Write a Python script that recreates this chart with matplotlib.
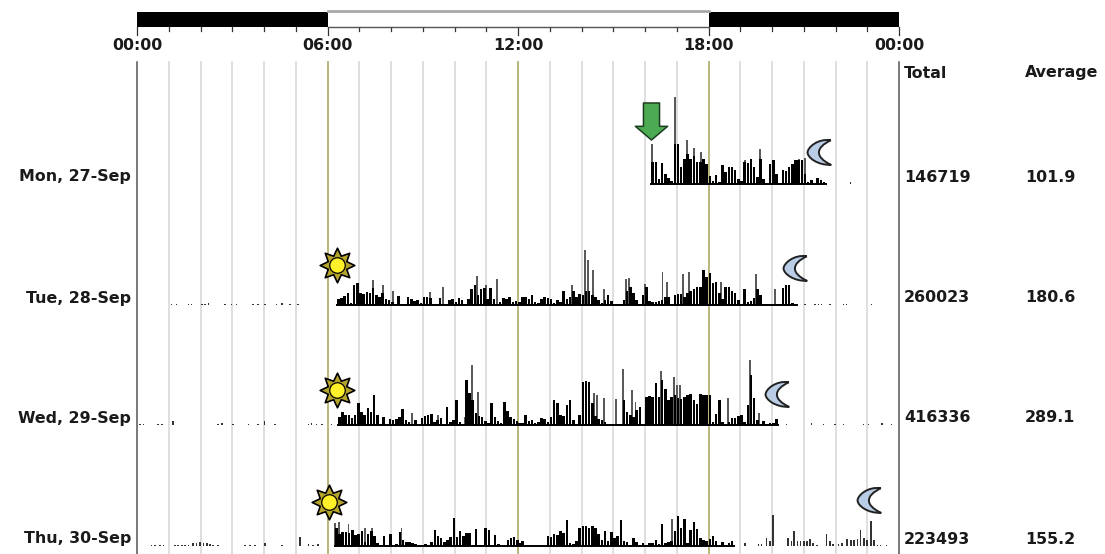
# Daily activity chart, four days stacked with a day/night strip on top
import matplotlib
matplotlib.use('Agg')
import matplotlib.pyplot as plt
import numpy as np
from matplotlib.path import Path

days = ['Mon, 27-Sep', 'Tue, 28-Sep', 'Wed, 29-Sep', 'Thu, 30-Sep']
totals = ['146719', '260023', '416336', '223493']
averages = ['101.9', '180.6', '289.1', '155.2']
tick_labels = ['00:00', '06:00', '12:00', '18:00', '00:00']
tick_hours = [0, 6, 12, 18, 24]

# activity per 6 minute bin
mon_start = 16.2
mon_body = [22, 22, 5, 21, 10, 6, 3, 40, 40, 17, 25, 30, 25, 28, 22, 22, 25, 20, 8, 3, 9, 2, 19, 12, 17, 17, 14,
            5, 3, 22, 21, 25, 17, 7, 25, 5, 0, 20, 24, 10, 1, 14, 13, 17, 20, 24, 24, 24, 10, 2, 4, 1, 6, 4, 2]
mon_spike_h = [16.21, 16.94, 17.33, 17.55, 17.76, 19.15, 19.62, 20.85, 21.05]
mon_spike_v = [40, 87, 44, 36, 32, 24, 35, 25, 26]
mon_dot_h = [22.47]
mon_dot_v = [2]

tue_start = 6.3
tue_am = [6, 7, 9, 12, 2, 20, 22, 12, 11, 13, 12, 17, 10, 8, 12, 6, 5, 3, 1, 9, 1, 1, 8, 6, 4, 5, 2, 8, 8, 7, 1, 1,
          7, 1, 1, 5, 6, 3, 7, 5, 1, 6, 16, 20, 10, 16, 17, 6, 17, 6, 1, 3, 7, 6, 8, 3, 4]
tue_pm = [3, 8, 8, 6, 10, 3, 2, 6, 8, 7, 6, 2, 5, 3, 14, 6, 8, 14, 8, 11, 10, 14, 14, 10, 8, 5, 2, 5, 10, 4, 1, 1,
          1, 5, 14, 18, 12, 5, 1, 10, 18, 4, 3, 3, 4, 5, 8, 8, 1, 10, 11, 11, 8, 12, 14, 16, 18, 18, 35, 28, 32,
          22, 23, 12, 6, 18, 18, 14, 12, 5, 1, 16, 3, 4, 7, 16, 10, 1, 1, 1, 0, 1, 1, 17, 20, 20, 2, 1]
tue_spike_h = [7.44, 7.76, 8.07, 9.23, 9.65, 10.7, 11.0, 11.33, 13.7, 14.1, 14.2, 14.35, 14.7, 15.4, 15.5, 16.0,
               16.55, 16.7, 17.2, 17.4, 18.4, 19.5, 20.1]
tue_spike_v = [25, 20, 14, 13, 18, 29, 20, 26, 20, 55, 45, 35, 16, 26, 27, 21, 33, 23, 31, 33, 23, 31, 16]
tue_dot_h = [1.09, 1.25, 1.62, 1.72, 2.04, 2.14, 2.25, 2.77, 2.98, 3.14, 3.66, 3.82, 4.03, 4.4, 4.56, 4.82, 5.08,
             19.83, 21.04, 21.36, 21.47, 21.56, 21.83, 22.25, 22.35, 23.14]
tue_dot_v = [1, 1, 1, 1, 1, 1, 2, 1, 1, 1, 1, 1, 1, 1, 2, 1, 1, 1, 1, 1, 1, 1, 1, 1, 1, 1]

wed_start = 6.33
wed_am = [8, 13, 10, 10, 7, 10, 22, 13, 10, 17, 13, 30, 10, 0, 8, 0, 6, 5, 6, 8, 16, 5, 3, 1, 5, 0, 7, 9, 10, 11, 3,
          5, 7, 0, 18, 3, 5, 25, 3, 1, 45, 32, 25, 12, 9, 8, 4, 2, 22, 8, 4, 2, 23, 14, 8, 6, 4]
wed_pm = [2, 2, 10, 4, 5, 2, 3, 7, 6, 3, 8, 25, 22, 10, 9, 20, 25, 5, 1, 10, 43, 44, 43, 22, 9, 6, 5, 3, 0, 1, 0, 1,
          1, 25, 13, 10, 8, 15, 18, 0, 28, 29, 28, 42, 28, 45, 36, 25, 28, 30, 27, 26, 28, 30, 31, 25, 21, 31, 30,
          30, 30, 3, 11, 25, 3, 0, 3, 7, 7, 9, 10, 3, 20, 50, 27, 5, 1, 4, 1, 2, 2, 6]
wed_spike_h = [8.65, 9.49, 10.33, 10.54, 10.75, 14.4, 14.5, 14.7, 15.1, 15.3, 15.6, 15.7, 16.5, 16.9, 17.0, 17.1,
               18.6, 19.3, 19.6]
wed_spike_v = [12, 10, 8, 60, 33, 32, 30, 27, 26, 56, 35, 23, 54, 48, 40, 40, 27, 65, 12]
wed_dot_h = [0.09, 0.2, 0.67, 0.78, 1.14, 2.56, 2.67, 3.03, 3.51, 3.82, 4.01, 4.35, 5.4, 5.5, 5.66, 5.82, 6.13,
             14.9, 20.46, 21.25, 21.62, 21.98, 22.25, 22.88, 23.04, 23.46, 23.77]
wed_dot_v = [1, 1, 1, 1, 4, 1, 2, 1, 1, 1, 4, 1, 1, 2, 1, 1, 1, 1, 1, 2, 1, 1, 1, 1, 1, 2, 1]

thu_start = 6.24
thu_am = [18, 12, 14, 14, 13, 16, 11, 12, 15, 4, 12, 15, 10, 3, 1, 10, 1, 12, 1, 2, 14, 6, 4, 4, 3, 2, 1, 1, 2, 1, 4,
          16, 10, 8, 4, 6, 9, 28, 9, 15, 10, 13, 13, 1, 17, 1, 1, 18, 16, 0, 11, 2, 0, 1, 6, 8, 9, 6]
thu_pm = [3, 5, 0, 0, 0, 0, 0, 0, 0, 10, 9, 12, 11, 15, 13, 26, 3, 2, 5, 18, 20, 20, 18, 20, 18, 12, 6, 15, 5, 14, 8,
          10, 26, 5, 4, 1, 8, 4, 1, 3, 1, 3, 3, 6, 2, 22, 3, 4, 5, 15, 30, 18, 27, 3, 16, 24, 17, 8, 6, 5, 7, 10, 5,
          0, 4, 0, 3, 5]
thu_spike_h = [6.24, 6.35, 6.66, 7.18, 7.4, 8.33, 16.85, 17.05]
thu_spike_v = [23, 24, 22, 18, 18, 18, 27, 28]
thu_dot_h = [0.46, 0.57, 0.72, 0.83, 1.2, 1.3, 1.41, 1.51, 1.62, 1.77, 1.88, 1.98, 2.09, 2.2, 2.3, 2.4, 2.56, 3.4,
             3.56, 3.72, 4.03, 4.56, 5.13, 5.4, 5.55, 5.71, 19.15, 19.57, 19.67, 19.83, 19.94, 20.04, 20.51, 20.62,
             20.69, 20.8, 20.9, 21.0, 21.11, 21.2, 21.3, 21.41, 21.72, 21.83, 21.93, 22.09, 22.2, 22.37, 22.48, 22.58,
             22.69, 22.79, 22.9, 23.0, 23.11, 23.21, 23.32, 23.42, 23.6]
thu_dot_v = [1, 1, 1, 1, 1, 1, 1, 1, 1, 3, 3, 4, 3, 3, 2, 1, 1, 1, 1, 1, 3, 1, 9, 2, 1, 2, 3, 2, 2, 8, 5, 31, 8, 5,
             15, 5, 5, 5, 5, 7, 3, 1, 12, 5, 2, 2, 3, 7, 6, 6, 7, 16, 8, 6, 25, 6, 1, 1, 1]

sun_hours = [6.3, 6.3, 6.05]
moon_hours = [21.5, 20.75, 20.2, 23.1]
arrow_hour = 16.2

# layout, in pixels from the bottom of the 554 px high figure
W, H = 1105, 554
baselines = [H - 184, H - 305, H - 425, H - 546]
label_y = [H - 177, H - 298, H - 418, H - 539]
sun_y = [H - 265, H - 390, H - 502]
moon_y = [H - 152, H - 268, H - 394, H - 500]

BIN = 0.1
BOLD = dict(family='DejaVu Sans', fontweight='bold', fontsize=11.4, color='#1a1a1a', va='center')

fig = plt.figure(figsize=(W / 100, H / 100), dpi=100)
ax = fig.add_axes([137 / W, 0, (899 - 137) / W, 1])
ax.set_xlim(0, 24)
ax.set_ylim(0, H)
ax.axis('off')

# grid
grid_top = H - 62
for h in range(25):
    if h in (0, 24):
        col, lw = '#555555', 1.1
    elif h % 6 == 0:
        col, lw = '#b9b57c', 1.4
    else:
        col, lw = '#dcdcdc', 1.3
    ax.plot([h, h], [0, grid_top], color=col, lw=lw, zorder=1, clip_on=False)
    ax.plot([h, h], [H - 27, H - (35 if h % 6 == 0 else 31)], color='#333333', lw=0.9, clip_on=False)

# day/night strip
ax.bar([0, 18], [H - 12 - (H - 27)] * 2, width=[6, 6], bottom=H - 27, align='edge', color='black', zorder=2)
ax.plot([6, 18], [H - 11, H - 11], color='#a8a8a8', lw=2, zorder=2)
ax.plot([6, 18], [H - 27, H - 27], color='#555555', lw=1, zorder=2)

for h, lab in zip(tick_hours, tick_labels):
    ax.text(h, H - 46, lab, ha='center', clip_on=False, **BOLD)


def draw_day(base, runs, spike_h, spike_v, dot_h, dot_v):
    for start, vals in runs:
        x = start + np.arange(len(vals)) * BIN
        ax.bar(x, vals, width=BIN * 0.8, bottom=base, align='edge', color='black', lw=0, zorder=4)
    ax.bar(spike_h, spike_v, width=0.06, bottom=base, color='#5a5a5a', lw=0, zorder=3)
    ax.bar(dot_h, dot_v, width=0.05, bottom=base, color='#333333', lw=0, zorder=3)
    # thin foot line under the bars
    for start, vals in runs:
        ax.plot([start, start + len(vals) * BIN], [base, base], color='black', lw=1.4, zorder=4)


draw_day(baselines[0], [(mon_start, mon_body)], mon_spike_h, mon_spike_v, mon_dot_h, mon_dot_v)
draw_day(baselines[1], [(tue_start, tue_am), (12.0, tue_pm)], tue_spike_h, tue_spike_v, tue_dot_h, tue_dot_v)
draw_day(baselines[2], [(wed_start, wed_am), (12.0, wed_pm)], wed_spike_h, wed_spike_v, wed_dot_h, wed_dot_v)
draw_day(baselines[3], [(thu_start, thu_am), (12.0, thu_pm)], thu_spike_h, thu_spike_v, thu_dot_h, thu_dot_v)

# icons
star = Path.unit_regular_star(8, innerCircle=0.58)
ax.scatter(sun_hours, sun_y, s=620, marker=star, facecolor='#b5a52a', edgecolor='black', lw=1.2, zorder=6)
ax.scatter(sun_hours, sun_y, s=125, marker='o', facecolor='#fff02a', edgecolor='black', lw=0.9, zorder=7)

moon = Path([(0.8, 0.95), (-0.2, 1.1), (-1, 0.4), (-1, 0), (-1, -0.4), (-0.2, -1.0), (0.8, -0.95),
             (0.2, -0.65), (-0.12, -0.35), (-0.12, 0), (-0.12, 0.35), (0.2, 0.65), (0.8, 0.95)],
            [Path.MOVETO] + [Path.CURVE4] * 12)
ax.scatter(moon_hours, moon_y, s=420, marker=moon, facecolor='#b9cee6', edgecolor='#222222', lw=1.4, zorder=6)

arrow = Path([(-0.5, 1.15), (0.5, 1.15), (0.5, -0.3), (1, -0.3), (0, -1.15), (-1, -0.3), (-0.5, -0.3), (-0.5, 1.15)],
             closed=True)
ax.scatter([arrow_hour], [H - 121], s=710, marker=arrow, facecolor='#4cab52', edgecolor='#1d3d20', lw=1.1, zorder=6)

# text columns, placed in figure pixels
for y, d, t, a in zip(label_y, days, totals, averages):
    fig.text(131 / W, y / H, d, ha='right', **BOLD)
    fig.text(904 / W, y / H, t, ha='left', **BOLD)
    fig.text(1025 / W, y / H, a, ha='left', **BOLD)
fig.text(904 / W, (H - 73) / H, 'Total', ha='left', **BOLD)
fig.text(1025 / W, (H - 73) / H, 'Average', ha='left', **BOLD)

fig.savefig('out.png', dpi=100)
